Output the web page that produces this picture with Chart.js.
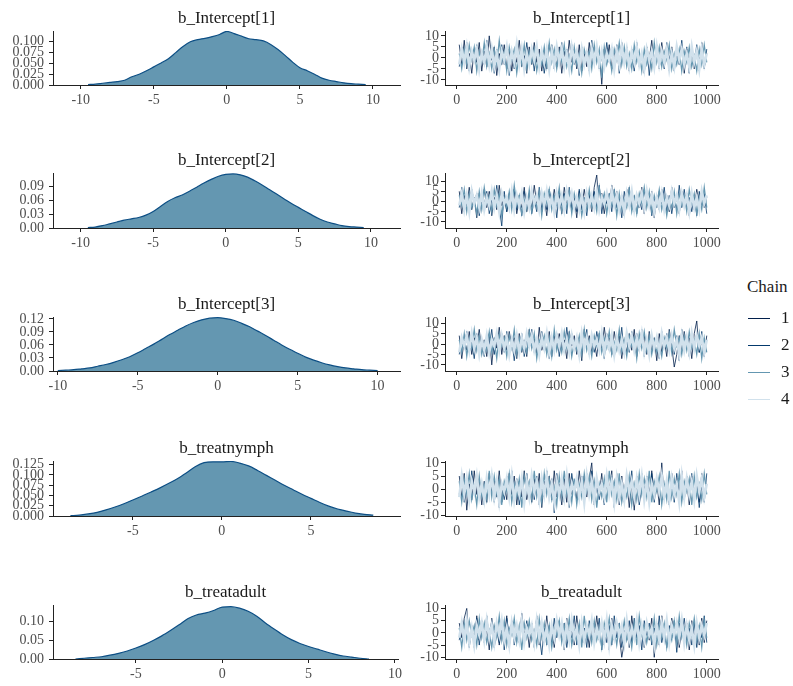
<!DOCTYPE html>
<html>
<head>
<meta charset="utf-8">
<title>MCMC density and trace plots</title>
<script src="https://cdn.jsdelivr.net/npm/chart.js@4.4.1/dist/chart.umd.min.js"></script>
<style>
  body { margin: 0; background: #fff; }
  #wrap { position: relative; width: 793px; height: 686px; overflow: hidden; font-family: "Liberation Serif", "Times New Roman", serif; }
  #wrap canvas { position: absolute; }
  .leg { position: absolute; font-size: 17px; line-height: 20px; color: #1a1a1a; }
  .leg-line { position: absolute; width: 22px; height: 1px; }
</style>
</head>
<body>
<div id="wrap"></div>
<script>
const params = ['b_Intercept[1]', 'b_Intercept[2]', 'b_Intercept[3]', 'b_treatnymph', 'b_treatadult'];
const chainNames = ['1', '2', '3', '4'];
const chainColors = ['#011f4b', '#03396c', '#6497b1', '#d1e1ec'];
const chainWidths = [0.8, 0.8, 1.2, 2.6];

// posterior densities (all chains pooled)
const densX1 = [-9.5,-9,-8.5,-8,-7.5,-7,-6.5,-6,-5.5,-5,-4.5,-4,-3.5,-3,-2.5,-2,-1.5,-1,-0.5,0,0.5,1,1.5,2,2.5,3,3.5,4,4.5,5,5.5,6,6.5,7,7.5,8,8.5,9,9.5];
const densY1 = [0.001,0.002,0.004,0.006,0.008,0.011,0.019,0.025,0.033,0.042,0.051,0.061,0.075,0.089,0.100,0.105,0.108,0.112,0.117,0.124,0.119,0.113,0.107,0.105,0.102,0.094,0.082,0.068,0.053,0.040,0.033,0.025,0.016,0.011,0.008,0.005,0.003,0.002,0.001];
const densX2 = [-9.5,-9,-8.5,-8,-7.5,-7,-6.5,-6,-5.5,-5,-4.5,-4,-3.5,-3,-2.5,-2,-1.5,-1,-0.5,0,0.5,1,1.5,2,2.5,3,3.5,4,4.5,5,5.5,6,6.5,7,7.5,8,8.5,9,9.5];
const densY2 = [0.001,0.002,0.005,0.009,0.013,0.017,0.020,0.023,0.028,0.036,0.047,0.058,0.066,0.072,0.080,0.089,0.098,0.106,0.113,0.117,0.118,0.116,0.111,0.103,0.094,0.084,0.074,0.064,0.054,0.045,0.036,0.027,0.019,0.013,0.009,0.005,0.003,0.002,0.001];
const densX3 = [-10,-9.5,-9,-8.5,-8,-7.5,-7,-6.5,-6,-5.5,-5,-4.5,-4,-3.5,-3,-2.5,-2,-1.5,-1,-0.5,0,0.5,1,1.5,2,2.5,3,3.5,4,4.5,5,5.5,6,6.5,7,7.5,8,8.5,9,9.5,10];
const densY3 = [0.001,0.002,0.003,0.005,0.007,0.011,0.015,0.020,0.026,0.033,0.042,0.052,0.062,0.073,0.084,0.094,0.104,0.112,0.118,0.122,0.123,0.121,0.117,0.110,0.102,0.092,0.082,0.071,0.060,0.050,0.041,0.032,0.025,0.019,0.014,0.010,0.007,0.005,0.003,0.002,0.001];
const densX4 = [-8.5,-8,-7.5,-7,-6.5,-6,-5.5,-5,-4.5,-4,-3.5,-3,-2.5,-2,-1.5,-1,-0.5,0,0.5,1,1.5,2,2.5,3,3.5,4,4.5,5,5.5,6,6.5,7,7.5,8,8.5];
const densY4 = [0.001,0.002,0.005,0.009,0.015,0.022,0.030,0.039,0.048,0.058,0.068,0.079,0.091,0.105,0.120,0.130,0.132,0.132,0.133,0.129,0.122,0.111,0.099,0.087,0.075,0.064,0.053,0.043,0.033,0.024,0.017,0.012,0.007,0.004,0.002];
const densX5 = [-8.5,-8,-7.5,-7,-6.5,-6,-5.5,-5,-4.5,-4,-3.5,-3,-2.5,-2,-1.5,-1,-0.5,0,0.5,1,1.5,2,2.5,3,3.5,4,4.5,5,5.5,6,6.5,7,7.5,8,8.5];
const densY5 = [0.000,0.002,0.004,0.006,0.010,0.015,0.021,0.029,0.038,0.049,0.061,0.075,0.090,0.106,0.116,0.121,0.128,0.137,0.138,0.134,0.126,0.113,0.095,0.079,0.064,0.051,0.041,0.033,0.026,0.019,0.013,0.008,0.005,0.002,0.000];

// tick labels
const densXTicks = [[-10,-5,0,5,10], [-10,-5,0,5,10], [-10,-5,0,5,10], [-5,0,5], [-5,0,5,10]];
const densYTicks = [[0,0.025,0.05,0.075,0.1], [0,0.03,0.06,0.09], [0,0.03,0.06,0.09,0.12], [0,0.025,0.05,0.075,0.1,0.125], [0,0.05,0.1]];
const densYDigits = [3, 2, 2, 3, 2];
const iterTicks = [0, 200, 400, 600, 800, 1000];
const traceYTicks = [-10, -5, 0, 5, 10];

// thinned draws, every 10th iteration, one row per chain
const traceInt1 = [
  [6,-3,8,-5,2,-7,4,-2,7,-6,3,-4,10,-1,5,-8,2,-3,6,-5,4,-6,3,-2,8,-4,1,-7,5,-3,7,-2,4,-6,3,-5,6,-1,2,-4,5,-7,3,-3,8,-2,4,-5,6,-6,2,-4,7,-3,5,-1,3,-12,4,-2,6,-5,2,3,-4,7,-2,5,-6,4,-3,6,-4,2,-7,5,-1,8,-3,4,-5,7,-2,3,-6,5,-4,2,-3,6,-7,4,-2,5,-5,3,-6,7,-4,2],
  [-4,5,-2,7,-6,3,-1,6,-5,2,-3,8,-4,1,-7,4,-2,6,-3,5,-8,2,-5,6,-1,3,-4,7,-2,4,-6,5,-3,2,-7,1,-4,6,-5,3,-2,7,-5,4,-1,6,-3,2,-8,5,-4,3,-6,8,-2,4,-5,1,-3,7,-2,5,-4,6,-7,3,-1,4,-5,2,-6,7,-3,1,-4,5,-8,3,-2,6,-4,2,-5,7,-1,4,-6,3,-3,8,-2,5,-7,4,-3,6,-1,2,-5,4],
  [2,-5,4,-3,6,-1,5,-6,3,-2,7,-4,2,-5,4,-3,8,-2,3,-6,5,-1,4,-7,2,-3,6,-5,3,-2,4,-6,1,-3,5,-4,7,-2,4,-5,3,-2,6,-4,1,-6,5,-3,2,-7,4,-1,3,-5,6,-2,4,-9,5,-3,2,-6,4,-1,7,-3,5,-4,2,-5,6,-2,3,-6,4,-3,1,-5,7,-2,5,-4,3,-1,6,-5,2,-3,4,-6,3,-2,5,-4,1,-6,4,-3,6,-2],
  [-3,4,-2,5,-4,3,-1,4,-5,2,-2,5,-3,4,-4,2,-5,3,-1,5,-4,3,-2,6,-3,4,-5,2,-3,4,-1,5,-4,3,-2,4,-5,3,-3,5,-2,4,-4,2,-5,5,-1,3,-4,4,-3,2,-5,4,-2,5,-3,3,-4,2,-1,4,-5,3,-3,5,-2,4,-4,3,-2,5,-3,2,-5,4,-1,3,-4,5,-3,3,-2,4,-5,2,-4,5,-1,4,-3,2,-4,5,-2,3,-5,4,-3,2]
];
const traceInt2 = [
  [5,-6,3,-2,7,-4,2,-8,4,-1,6,-3,5,-7,2,-4,8,-2,3,-5,4,-2,6,-6,1,-3,7,-5,3,-4,8,-1,4,-5,2,-7,5,-3,6,-2,3,-6,7,-1,4,-4,2,-8,5,-3,6,-2,3,-5,7,13,-4,4,-6,2,-3,8,-2,5,-4,3,-7,6,-1,4,-5,2,-3,7,-6,4,-2,5,-8,3,-4,6,-1,3,-5,7,-3,2,-6,5,-2,4,-7,3,-4,6,-1,5,-3,2],
  [-3,7,-5,2,-4,6,-1,4,-7,3,-2,5,-6,1,-4,8,-3,-12,5,-5,2,-3,6,-4,3,-7,5,-2,4,-6,1,-5,7,-3,2,-4,6,-1,3,-8,5,-2,4,-6,7,-3,1,-5,6,-4,2,-7,4,-2,5,-3,8,-6,3,-1,4,-5,6,-3,2,-8,5,-2,7,-4,3,-6,1,-4,6,-2,4,-7,2,-3,5,-1,7,-5,3,-6,2,-4,8,-3,6,-4,2,-5,3,-7,5,-2,4,-6],
  [3,-2,6,-5,4,-3,1,-6,5,-4,7,-1,3,-5,6,-2,4,-7,2,-3,5,-4,8,-2,3,-6,1,-4,6,-5,2,-3,5,-7,4,-1,6,-4,3,-2,7,-5,2,-3,5,-6,4,-2,3,-7,1,-4,6,-3,2,-5,7,-1,4,-6,3,-2,5,-7,4,-4,1,-3,6,-5,2,-6,4,-1,7,-3,5,-5,3,-2,6,-4,2,-7,1,-3,5,-6,4,-2,3,-5,6,-1,4,-6,2,-4,7,-3],
  [-2,4,-4,3,-5,5,-1,3,-3,4,-4,2,-2,5,-3,3,-5,4,-1,2,-3,5,-4,3,-2,4,-5,2,-3,5,-1,3,-4,4,-2,5,-3,2,-5,4,-2,3,-4,5,-1,4,-3,2,-4,3,-5,4,-2,3,-3,5,-4,2,-1,4,-3,5,-2,3,-4,2,-5,4,-2,5,-4,3,-1,4,-3,5,-2,3,-5,2,-3,4,-4,2,-2,5,-1,3,-4,4,-2,3,-5,4,-3,2,-4,5,-1,3]
];
const traceInt3 = [
  [4,-7,2,-3,6,-5,3,-1,7,-4,2,-6,5,-10,3,-2,8,-5,4,-3,6,-1,3,-7,5,-4,2,-6,7,-2,3,-5,8,-3,1,-4,6,-6,4,-2,5,-3,2,-7,6,-1,4,-5,3,-8,7,-2,4,-4,1,-6,5,-3,8,-1,3,-5,6,-2,4,-7,2,-4,5,-3,7,-6,1,-2,4,-5,6,-3,3,-8,5,-4,2,-6,7,-1,-11,-5,4,-3,6,-2,3,-7,5,11,-4,2,-6,4],
  [-5,3,-2,6,-4,1,-7,5,-3,2,-6,4,-1,7,-5,3,-2,5,-4,6,-3,2,-8,4,-1,5,-6,3,-2,7,-4,1,-5,6,-3,4,-7,2,-1,5,-6,3,-4,8,-2,5,-3,1,-6,4,-2,7,-5,3,-4,6,-1,2,-7,5,-3,4,-6,1,-2,8,-5,3,-4,6,-1,5,-3,7,-6,2,-4,4,-2,3,-7,6,-1,5,-3,2,-5,4,-8,7,-2,3,-6,4,-1,5,-4,6,-3,2],
  [2,-4,5,-6,3,-2,7,-3,4,-5,1,-3,6,-4,2,-7,5,-1,3,-6,4,-2,7,-5,3,-3,1,-4,6,-2,5,-7,2,-1,4,-5,3,-6,7,-3,2,-4,6,-2,5,-6,1,-3,4,-5,7,-3,2,-6,4,-1,5,-4,3,-2,6,-5,1,-3,7,-4,2,-6,4,-1,3,-7,5,-2,6,-3,4,-5,2,-4,1,-6,3,-2,5,-4,7,-1,3,-5,4,-3,6,-2,2,-5,5,-7,3,-4],
  [-4,3,-1,4,-3,5,-2,3,-5,2,-3,4,-4,2,-1,5,-3,4,-2,3,-5,2,-3,4,-4,3,-2,5,-1,4,-3,2,-5,3,-2,5,-4,3,-3,4,-1,5,-3,2,-4,4,-2,3,-5,5,-2,3,-4,4,-1,2,-3,5,-4,3,-2,4,-5,3,-3,2,-4,5,-1,4,-3,3,-2,5,-4,2,-5,4,-2,3,-4,5,-1,3,-3,4,-2,2,-5,4,-3,3,-4,5,-2,4,-1,3,-4,2]
];
const traceNymph = [
  [5,-3,6,-8,2,-4,7,-2,4,-6,3,-5,6,-1,4,-3,7,-5,2,-4,6,-2,5,-6,3,-3,7,-4,1,-5,4,-2,6,-7,3,-1,5,-4,7,-3,2,-6,4,-5,6,-2,3,-4,7,-1,5,-3,4,10,-6,3,-2,6,-5,4,-1,7,-4,3,-6,5,-2,4,-7,3,-8,5,-3,6,-1,4,-5,7,-2,3,-6,10,-4,2,-5,6,-3,4,-1,7,-4,3,-6,5,-2,4,-5,6,-3,2],
  [-2,6,-5,3,-4,7,-1,5,-3,2,-6,4,-2,6,-5,3,-7,1,-4,5,-3,7,-1,4,-6,2,-5,6,-2,3,-4,5,-6,2,-3,7,-1,4,-9,6,-2,3,-5,4,-7,6,-1,2,-4,5,-3,6,-2,7,-5,1,-4,3,-6,4,-2,5,-7,6,-3,2,-5,4,-1,7,-4,3,-6,1,-2,5,-3,6,-5,4,-1,7,-4,3,-6,2,-5,6,-2,4,-3,5,-1,6,-4,3,-7,2,-5,6],
  [3,-5,4,-2,6,-4,1,-6,5,-3,2,-4,7,-3,5,-2,4,-6,3,-1,6,-5,2,-3,4,-7,5,-1,3,-4,7,-3,2,-5,6,-2,4,-4,1,-6,5,-3,7,-2,3,-5,4,-6,2,-3,6,-1,5,-4,3,-7,2,-3,4,-5,7,-2,3,-4,6,-5,1,-3,5,-6,2,-4,6,-2,4,-3,7,-5,3,-1,5,-6,2,-4,7,-3,4,-2,6,-5,3,-1,4,-6,5,-3,2,-4,6,-2],
  [-3,5,-2,4,-4,3,-1,5,-3,2,-4,4,-2,5,-3,3,-5,2,-1,4,-3,5,-4,2,-2,4,-5,3,-3,5,-1,3,-4,4,-2,5,-3,2,-5,3,-2,4,-3,5,-4,2,-1,4,-3,3,-5,5,-2,3,-4,4,-1,2,-3,5,-2,3,-5,4,-3,2,-4,5,-1,3,-3,4,-2,5,-4,3,-5,2,-2,4,-1,5,-3,3,-4,4,-2,2,-5,5,-3,4,-2,3,-4,5,-1,4,-3,2]
];
const traceAdult = [
  [4,-2,6,10,-5,3,-6,7,-3,5,-4,2,-7,6,-1,4,-5,3,-2,7,-6,5,-3,2,-4,8,-1,3,-6,4,-2,6,-5,3,-4,7,-3,2,-6,5,-1,4,-7,6,-3,2,-5,7,-2,4,-4,3,-6,5,-2,7,-3,4,-5,2,-7,6,-3,4,-1,-10,-4,3,-6,7,-2,5,-4,3,-6,2,-3,6,-10,4,-5,7,-2,3,-4,6,-1,5,-6,2,-3,4,-7,5,-2,3,-5,6,-4,5],
  [-3,5,-1,4,-6,2,-4,6,-5,3,-2,7,-3,5,-6,1,-4,3,-7,6,-1,4,-5,2,-3,6,-4,5,-2,3,-6,7,-1,-9,2,-5,3,-4,6,-2,5,-3,4,-6,1,-2,7,-5,3,-4,2,-6,5,-3,4,-1,6,-7,2,-4,3,-5,7,-2,4,-6,1,-3,5,-4,6,-2,3,-7,5,-1,4,-5,2,-3,7,-4,1,-6,3,-2,5,-8,4,-1,6,-3,2,-5,4,-6,3,-2,7,-4],
  [2,-6,4,-3,5,-1,3,-5,6,-2,4,-4,1,-6,3,-2,7,-3,5,-5,2,-1,6,-4,3,-7,4,-2,5,-3,1,-5,6,-2,4,-4,3,-6,2,-1,5,-4,3,-2,6,-5,1,-3,4,-6,7,-2,3,-4,5,-3,2,-6,4,-1,6,-4,2,-5,3,-2,5,-3,1,-6,4,-5,7,-1,3,-4,2,-3,6,-5,3,-2,4,-6,1,-3,5,-4,7,-2,2,-5,4,-1,6,-3,3,-6,5,-2],
  [-2,4,-3,5,-4,2,-5,3,-1,4,-3,5,-2,3,-4,4,-1,5,-3,2,-5,4,-2,3,-3,5,-4,2,-1,3,-4,5,-2,4,-3,2,-5,3,-2,5,-1,4,-4,3,-3,5,-2,2,-5,4,-3,3,-1,5,-4,2,-2,4,-3,5,-5,3,-2,4,-1,3,-4,5,-3,2,-2,5,-4,3,-3,4,-1,2,-5,3,-3,4,-2,5,-4,3,-1,4,-2,5,-4,3,-3,2,-5,4,-2,3,-1,4]
];
const iters = traceInt1[0].map((_, i) => (i + 1) * 10);

const densX = [densX1, densX2, densX3, densX4, densX5];
const densY = [densY1, densY2, densY3, densY4, densY5];
const traces = [traceInt1, traceInt2, traceInt3, traceNymph, traceAdult];

// panel geometry: top of each plotting area and its height, axis limits
const plotTop = [31, 173, 317, 461, 605];
const plotH = [54, 55, 54, 55, 54];
const densXLim = [[-11.9, 11.85], [-11.9, 12.0], [-10.3, 11.4], [-9.48, 10.0], [-9.8, 10.2]];
const densYMax = [0.125, 0.12, 0.1246, 0.134, 0.1424];
const traceYLim = [[-12.3, 12.2], [-13, 14], [-12.9, 12.9], [-10.2, 10.7], [-10.7, 11.4]];
const TITLE_H = 22, XAXIS_H = 30;

Chart.defaults.animation = false;
Chart.defaults.font.family = '"Liberation Serif", "Times New Roman", serif';

const wrap = document.getElementById('wrap');

function addCanvas(left, top, w, h) {
  const c = document.createElement('canvas');
  c.width = w;
  c.height = h;
  c.style.left = left + 'px';
  c.style.top = top + 'px';
  c.style.width = w + 'px';
  c.style.height = h + 'px';
  wrap.appendChild(c);
  return c;
}

function axis(min, max, ticks, fit, pad, fmt) {
  return {
    type: 'linear',
    min: min,
    max: max,
    afterBuildTicks: s => { s.ticks = ticks.map(v => ({ value: v })); },
    afterFit: fit,
    grid: { drawOnChartArea: false, drawTicks: true, tickLength: 4, color: '#222', lineWidth: 1 },
    border: { display: true, color: '#222', width: 1 },
    ticks: { autoSkip: false, maxRotation: 0, color: '#4d4d4d', font: { size: 14 }, padding: pad, callback: fmt }
  };
}

function titleOpts(text) {
  return {
    display: true,
    text: text,
    fullSize: false,
    color: '#1a1a1a',
    font: { size: 17, weight: 'normal', lineHeight: '20px' },
    padding: { top: 0, bottom: 2 }
  };
}

params.forEach((name, r) => {
  const top = plotTop[r] - TITLE_H;
  const h = TITLE_H + plotH[r] + XAXIS_H;

  // left column: density
  const dc = addCanvas(0, top, 405, h);
  new Chart(dc, {
    type: 'line',
    data: {
      datasets: [{
        data: densX[r].map((x, i) => ({ x: x, y: densY[r][i] })),
        fill: 'origin',
        backgroundColor: '#6497b1',
        borderColor: '#0d4f85',
        borderWidth: 1.2,
        pointRadius: 0,
        cubicInterpolationMode: 'monotone'
      }]
    },
    options: {
      responsive: false,
      events: [],
      layout: { padding: { right: 5 } },
      plugins: { legend: { display: false }, tooltip: { enabled: false }, title: titleOpts(name) },
      scales: {
        x: axis(densXLim[r][0], densXLim[r][1], densXTicks[r], s => { s.height = XAXIS_H; }, 3, v => String(v)),
        y: axis(0, densYMax[r], densYTicks[r], s => { s.width = 53; }, 5, v => v.toFixed(densYDigits[r]))
      }
    }
  });

  // right column: trace, chain 4 drawn last so it sits on top
  const tc = addCanvas(400, top, 330, h);
  new Chart(tc, {
    type: 'line',
    data: {
      datasets: traces[r].map((vals, c) => ({
        label: chainNames[c],
        data: vals.map((v, i) => ({ x: iters[i], y: v })),
        borderColor: chainColors[c],
        borderWidth: chainWidths[c],
        pointRadius: 0,
        fill: false,
        order: traces[r].length - c
      }))
    },
    options: {
      responsive: false,
      events: [],
      layout: { padding: { right: 12 } },
      plugins: { legend: { display: false }, tooltip: { enabled: false }, title: titleOpts(name) },
      scales: {
        x: axis(-47, 1045, iterTicks, s => { s.height = XAXIS_H; }, 3, v => String(v)),
        y: axis(traceYLim[r][0], traceYLim[r][1], traceYTicks, s => { s.width = 45; }, 2, v => String(v))
      }
    }
  });
});

// chain legend
const legTitle = document.createElement('div');
legTitle.className = 'leg';
legTitle.style.left = '747px';
legTitle.style.top = '277px';
legTitle.textContent = 'Chain';
wrap.appendChild(legTitle);

const legY = [318, 345, 372, 399];
chainNames.forEach((n, i) => {
  const line = document.createElement('div');
  line.className = 'leg-line';
  line.style.left = '748px';
  line.style.top = legY[i] + 'px';
  line.style.background = chainColors[i];
  wrap.appendChild(line);

  const lab = document.createElement('div');
  lab.className = 'leg';
  lab.style.left = '781px';
  lab.style.top = (legY[i] - 10) + 'px';
  lab.textContent = n;
  wrap.appendChild(lab);
});
</script>
</body>
</html>
